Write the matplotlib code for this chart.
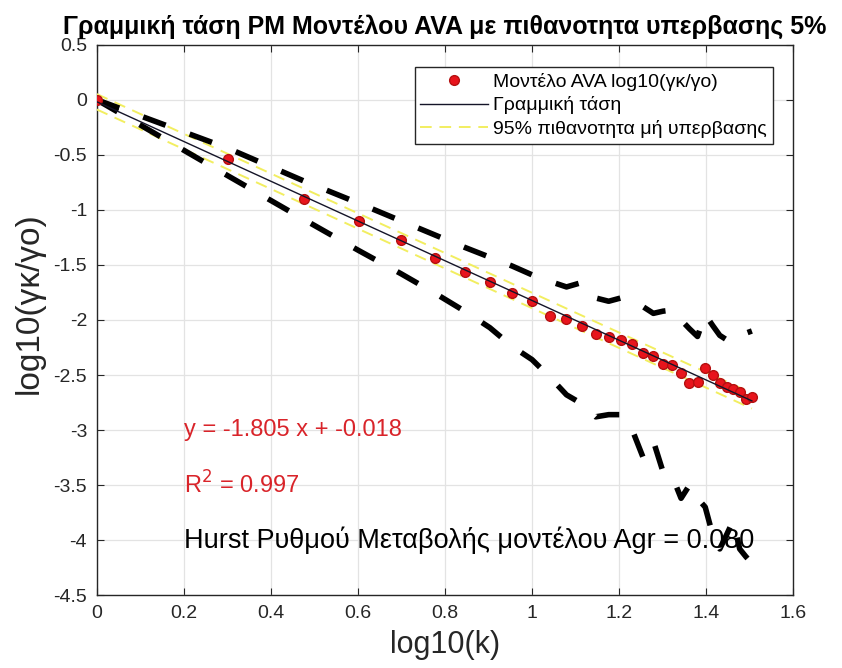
import numpy as np
import matplotlib
matplotlib.use('Agg')
import matplotlib.pyplot as plt

plt.rcParams['font.family'] = ['Liberation Sans', 'DejaVu Sans']

# lag k and measured log10(gk/go) of the AVA model
k = [1, 2, 3, 4, 5, 6, 7, 8, 9, 10, 11, 12, 13, 14, 15, 16,
     17, 18, 19, 20, 21, 22, 23, 24, 25, 26, 27, 28, 29, 30, 31, 32]
log_ratio = [0.0, -0.539, -0.897, -1.10, -1.275, -1.439, -1.567, -1.657,
             -1.758, -1.827, -1.964, -1.994, -2.051, -2.13, -2.152, -2.182,
             -2.221, -2.297, -2.324, -2.397, -2.409, -2.479, -2.576, -2.561,
             -2.433, -2.503, -2.57, -2.612, -2.63, -2.657, -2.721, -2.703]

# upper / lower bounds (thick black dashed)
upper = [0.0, -0.44, -0.74, -0.94, -1.10, -1.23, -1.34, -1.43,
         -1.51, -1.59, -1.65, -1.70, -1.66, -1.80, -1.83, -1.80,
         -1.86, -1.88, -1.94, -1.92, -1.91, -2.00, -2.08, -2.15,
         -1.95, -2.05, -2.14, -2.18, -2.14, -2.10, -2.12, -2.10]
lower = [0.0, -0.69, -1.09, -1.37, -1.58, -1.76, -1.92, -2.07,
         -2.24, -2.36, -2.52, -2.68, -2.76, -2.88, -2.86, -2.86,
         -3.00, -3.25, -3.10, -3.38, -3.42, -3.62, -3.50, -3.62,
         -3.70, -3.95, -4.08, -3.95, -3.82, -4.08, -4.15, -4.21]

slope = -1.805
intercept = -0.018
r2 = 0.997
hurst = 0.080
band = 0.07  # half width of the yellow 95% band

x = np.log10(k)
trend = slope * x + intercept

fig = plt.figure(figsize=(8.42, 6.68), dpi=100)
ax = fig.add_axes([0.115, 0.109, 0.827, 0.824])

ax.plot(x, upper, color='black', lw=4, dashes=(4.3, 4.6), zorder=4)
ax.plot(x, lower, color='black', lw=4, dashes=(4.3, 4.6), zorder=4)
ax.plot(x, log_ratio, 'o', color='#e8141c', mec='#b51010', ms=7,
        label='Μοντέλο AVA log10(γκ/γο)', zorder=5)
ax.plot(x, trend, color='#141428', lw=1, label='Γραμμική τάση', zorder=6)
ax.plot(x, trend + band, color='#f2ee60', lw=1.4, dashes=(6, 4),
        label='95% πιθανοτητα μή υπερβασης', zorder=3)
ax.plot(x, trend - band, color='#f2ee60', lw=1.4, dashes=(6, 4), zorder=3)

ax.text(0.2, -3.0, f'y = {slope:.3f} x + {intercept:.3f}', color='#d9242a',
        fontsize=17, va='center', zorder=2)
ax.text(0.2, -3.5, 'R$^2$ = %.3f' % r2, color='#d9242a',
        fontsize=17, va='center', zorder=2)
ax.text(0.2, -4.0, 'Hurst Ρυθμού Μεταβολής μοντέλου Agr = %.3f' % hurst,
        color='black', fontsize=19.5, va='center', zorder=2)

ax.set_xlim(0, 1.6)
ax.set_ylim(-4.5, 0.5)
ax.set_xticks(np.arange(0, 1.61, 0.2))
ax.set_yticks(np.arange(-4.5, 0.51, 0.5))
ax.set_xticklabels(['0', '0.2', '0.4', '0.6', '0.8', '1', '1.2', '1.4', '1.6'])
ax.set_yticklabels(['-4.5', '-4', '-3.5', '-3', '-2.5', '-2', '-1.5', '-1', '-0.5', '0', '0.5'])
ax.grid(True, color='#e3e3e3', lw=0.9)
ax.set_axisbelow(True)
ax.tick_params(direction='in', top=True, right=True, length=5,
               labelsize=14, colors='#262626', pad=7)
for s in ax.spines.values():
    s.set_color('#262626')
    s.set_linewidth(1)

ax.set_xlabel('log10(k)', fontsize=22, color='#262626', labelpad=6)
ax.set_ylabel('log10(γκ/γο)', fontsize=24, color='#262626')
ax.yaxis.set_label_coords(-0.075, 0.53)
ax.set_title('Γραμμική τάση PM Μοντέλου AVA με πιθανοτητα υπερβασης 5%',
             fontsize=18, fontweight='bold', pad=8)

leg = ax.legend(loc='upper right', bbox_to_anchor=(0.971, 0.96), borderaxespad=0,
                fontsize=14, handlelength=3.45, labelspacing=0.3,
                fancybox=False, framealpha=1, edgecolor='#262626',
                borderpad=0.3, handletextpad=0.3)
leg.get_frame().set_linewidth(1)

fig.savefig('out.png', dpi=100)
